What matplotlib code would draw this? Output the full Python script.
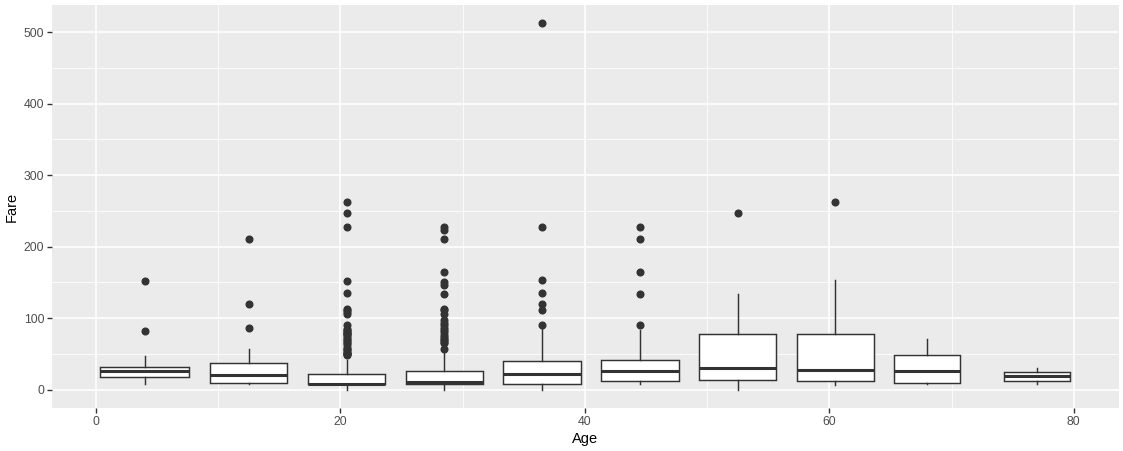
import matplotlib.pyplot as plt
import numpy as np

plt.rcParams["font.family"] = ["Liberation Sans", "DejaVu Sans"]

# box positions (age group centres) and widths, in years
positions = [4.0, 12.5, 20.5, 28.5, 36.5, 44.5, 52.5, 60.5, 68.0, 77.0]
widths = [7.28, 6.33, 6.35, 6.35, 6.32, 6.35, 6.35, 6.35, 5.46, 5.46]

# fare statistics per age group
q1 = [18.3, 9.5, 7.5, 7.9, 8.3, 12.5, 13.0, 12.5, 10.0, 12.6]
med = [26.3, 20.2, 8.3, 10.5, 21.5, 26.5, 30.0, 27.0, 26.0, 18.5]
q3 = [31.3, 37.5, 22.0, 26.0, 40.0, 41.0, 77.3, 77.5, 49.0, 24.3]
whis_lo = [8.2, 7.3, 0.0, 0.0, 0.0, 7.5, 0.0, 6.8, 7.7, 8.0]
whis_hi = [46.5, 57.0, 41.0, 53.0, 86.5, 83.0, 133.5, 153.5, 70.5, 30.0]

outliers = [
    [81.5, 151.55],
    [86.5, 120.0, 211.3],
    [48.0, 49.5, 50.5, 51.9, 52.5, 55.9, 56.5, 57.98, 61.98, 65.0, 66.6,
     69.55, 71.28, 73.5, 76.73, 77.29, 78.85, 79.2, 82.17, 83.16, 85.3,
     91.08, 106.4, 108.9, 110.9, 113.3, 135.6, 151.55, 227.5, 247.5, 263.0],
    [56.5, 65.0, 66.6, 69.5, 71.0, 73.5, 77.0, 80.0, 83.5, 86.5, 90.0,
     93.5, 97.0, 106.4, 110.9, 113.3, 133.5, 146.5, 151.0, 164.9, 211.3,
     223.0, 227.5],
    [91.0, 110.9, 120.0, 135.6, 153.5, 227.5, 512.33],
    [91.0, 134.5, 164.9, 211.3, 227.5],
    [247.5],
    [263.0],
    [],
    [],
]

stats = []
for i in range(len(positions)):
    stats.append({
        "q1": q1[i], "med": med[i], "q3": q3[i],
        "whislo": whis_lo[i], "whishi": whis_hi[i],
        "fliers": np.array(outliers[i]),
    })

dark = "#333333"

fig = plt.figure(figsize=(11.23, 4.51), dpi=100)
ax = fig.add_axes([52 / 1123, 43 / 451, 1067 / 1123, 403 / 451])
ax.set_facecolor("#EBEBEB")

ax.bxp(
    stats,
    positions=positions,
    widths=widths,
    patch_artist=True,
    showcaps=False,
    boxprops=dict(facecolor="white", edgecolor=dark, linewidth=1.05),
    medianprops=dict(color=dark, linewidth=2.2),
    whiskerprops=dict(color=dark, linewidth=1.05),
    flierprops=dict(marker="o", markerfacecolor=dark, markeredgecolor=dark,
                    markersize=4.8, linestyle="none"),
    manage_ticks=False,
    zorder=3,
)

ax.set_xlim(-3.6, 83.7)
ax.set_ylim(-25.6, 538)
ax.set_xticks([0, 20, 40, 60, 80])
ax.set_xticks([10, 30, 50, 70], minor=True)
ax.set_yticks([0, 100, 200, 300, 400, 500])
ax.set_yticks([50, 150, 250, 350, 450], minor=True)

ax.grid(True, which="major", color="white", linewidth=1.2)
ax.grid(True, which="minor", color="white", linewidth=0.6)
ax.set_axisbelow(True)

for s in ax.spines.values():
    s.set_visible(False)

ax.tick_params(which="major", length=3.5, width=1.0, color=dark,
               labelcolor="#4D4D4D", labelsize=8.8, pad=2)
ax.tick_params(which="minor", length=0)

ax.set_xlabel("Age", fontsize=10.5, color="black", labelpad=3)
ax.set_ylabel("Fare", fontsize=10.5, color="black", labelpad=4)

fig.savefig("out.png", dpi=100)
